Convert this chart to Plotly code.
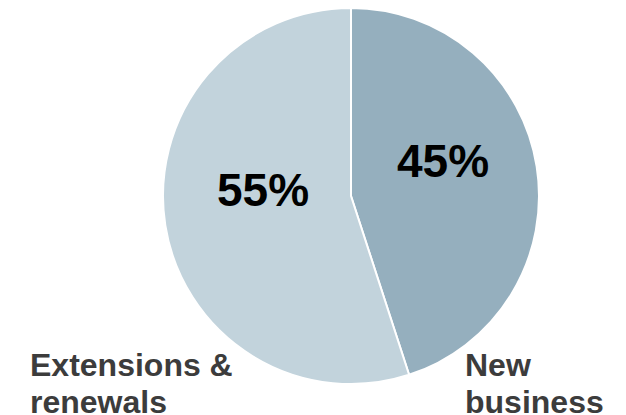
import plotly.graph_objects as go

categories = ["New business", "Extensions & renewals"]
values = [45, 55]
colors = ["#95AFBE", "#C2D3DC"]
label_lines = [["New", "business"], ["Extensions &", "renewals"]]

W, H = 626, 415
cx, cy, r = 351, 196, 188

fig = go.Figure(go.Pie(
    labels=categories, values=values, sort=False, direction="clockwise", rotation=0,
    marker=dict(colors=colors, line=dict(color="white", width=2)),
    textinfo="none", hoverinfo="label+percent", showlegend=False,
    domain=dict(x=[(cx - r) / W, (cx + r) / W], y=[(H - cy - r) / H, (H - cy + r) / H]),
))

def px(x, y):
    return x / W, 1 - y / H

annots = []
pct_pos = [(443, 161), (263, 190)]
for v, (x, y) in zip(values, pct_pos):
    ax, ay = px(x, y)
    annots.append(dict(x=ax, y=ay, xref="paper", yref="paper", text=f"<b>{v}%</b>",
                       showarrow=False, xanchor="center", yanchor="middle",
                       font=dict(family="Liberation Sans, Arial", size=46, color="#000000")))

lab_pos = [(463, [365, 402]), (28, [365, 402])]
for lines, (x, ys) in zip(label_lines, lab_pos):
    for t, y in zip(lines, ys):
        ax, ay = px(x, y)
        annots.append(dict(x=ax, y=ay, xref="paper", yref="paper", text=f"<b>{t}</b>",
                           showarrow=False, xanchor="left", yanchor="middle",
                           font=dict(family="Liberation Sans, Arial", size=32, color="#3C3C3C")))

fig.update_layout(width=W, height=H, margin=dict(l=0, r=0, t=0, b=0),
                  paper_bgcolor="white", plot_bgcolor="white", annotations=annots)
fig.write_html("out.html")
